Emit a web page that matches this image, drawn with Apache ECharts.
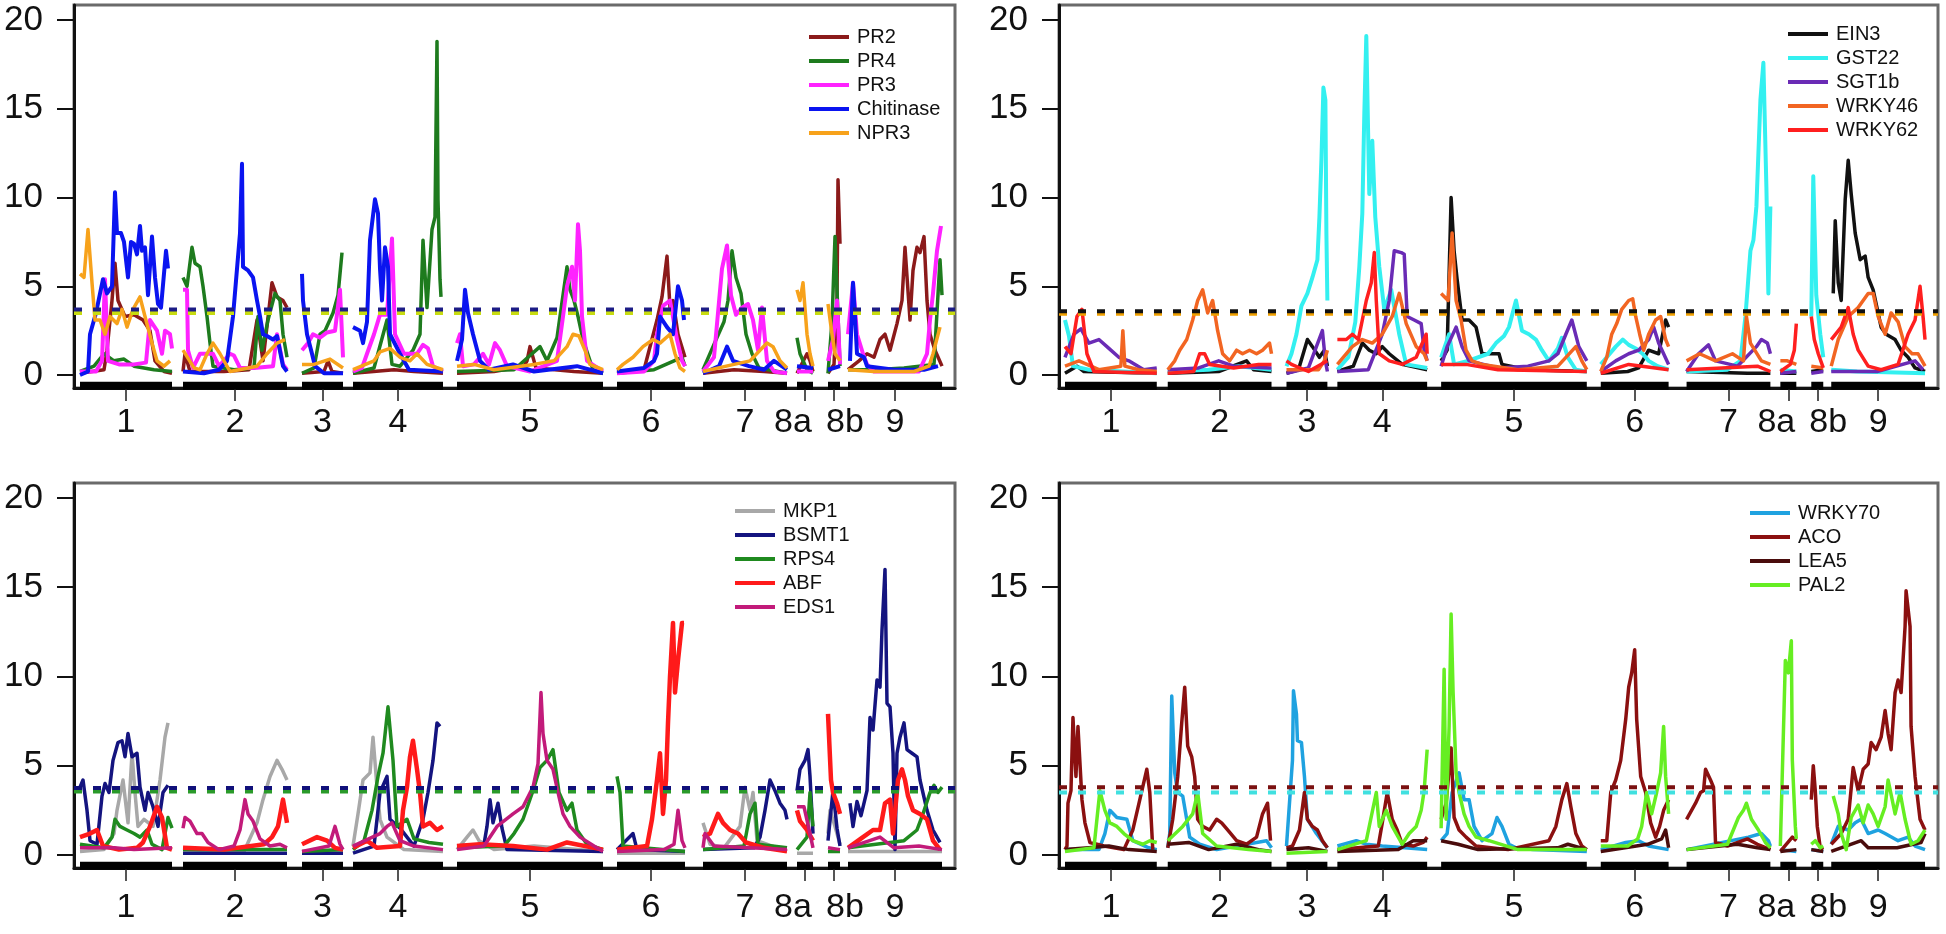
<!DOCTYPE html>
<html>
<head>
<meta charset="utf-8">
<script src="https://cdn.jsdelivr.net/npm/echarts@6/dist/echarts.min.js"></script>
<style>html,body{margin:0;padding:0;background:#fff}#c{width:1946px;height:934px}</style>
</head>
<body>
<div id="c"></div>
<script>
// ---- genetic map (cM positions along the plotted genome) ----
const chrNames = ['1','2','3','4','5','6','7','8a','8b','9'];
const chrStart = [6,109,228,279,383,543,629,723,754,774];
const chrEnd   = [98,213,269,369,529,611,713,739,766,868];
const genomeSpan = 881;
const yTicks = [0,5,10,15,20];

// ---- LOD profiles: [position, LOD] ----
// Panel A
const PR2 = [[6,0.1],[30,0.3],[33,1.4],[38,4.2],[41,6.3],[44,4.2],[51,3.3],[60,3.4],[69,3.1],[76,2.5],[81,0.8],[90,0.2],[98,0.1],
[109,0.2],[111,1.2],[116,0.2],[150,0.2],[175,0.3],[183,3.1],[189,0.8],[198,5.2],[203,4.4],[209,4.2],[213,3.8],
[228,0.1],[250,0.2],[254,0.8],[258,0.2],[269,0.1],
[279,0.1],[320,0.3],[340,0.2],[369,0.1],
[383,0.1],[420,0.2],[450,0.5],[453,0.8],[456,1.6],[462,0.4],[500,0.2],[529,0.1],
[543,0.1],[570,0.3],[583,3.1],[588,4.4],[593,6.7],[596,3.8],[599,4.2],[604,2.3],[611,1],
[629,0.1],[660,0.3],[690,0.2],[713,0.1],
[723,0.1],[733,1.2],[736,0.8],[739,0.2],
[754,0.1],[760,0.6],[763,4.2],[764,11],[766,7.4],
[774,0.3],[785,0.8],[793,1.2],[800,1.0],[806,2],[811,2.3],[816,1.4],[823,2.9],[828,4.2],[831,7.2],[836,3.1],[839,5.9],[843,7.2],[846,6.9],[850,7.8],[853,4.2],[856,2.3],[861,1.4],[868,0.5]];
const PR4 = [[6,0.2],[20,0.5],[30,1.2],[40,0.8],[50,0.9],[60,0.5],[80,0.3],[98,0.2],
[109,5.5],[113,5],[118,7.2],[121,6.3],[126,6.1],[129,5],[133,3.3],[136,1.8],[139,0.5],[160,0.3],[180,0.4],[184,3.3],[188,1.4],[194,3.1],[201,4.6],[206,4.2],[209,2.3],[213,1],
[228,0.1],[240,0.4],[246,2.3],[251,2.5],[259,3.5],[264,4.5],[268,6.9],
[279,0.1],[300,0.4],[313,3.1],[318,0.6],[326,0.5],[339,1.4],[346,2.3],[349,7.6],[353,3.8],[358,8.2],[361,8.9],[363,18.8],[364,9.9],[366,5.4],[367,4.4],
[383,0.2],[440,0.3],[466,1.6],[473,0.8],[483,2.1],[493,6.1],[496,4.8],[500,4.2],[504,3.3],[509,2],[519,0.3],[529,0.1],
[543,0.1],[580,0.3],[600,0.8],[608,1],[611,0.5],
[629,0.3],[639,1.6],[650,3],[654,4.2],[658,7],[662,5.5],[667,4.6],[672,2.3],[678,1.2],[685,0.4],[713,0.1],
[723,2.1],[726,1.2],[733,0.3],[739,0.1],
[754,0.1],[758,3],[761,7.8],[763,4.8],[766,0.5],
[774,0.3],[800,0.3],[830,0.4],[860,0.6],[866,6.5],[868,4.5]];
const PR3 = [[6,0.2],[22,0.2],[28,0.8],[31,5.4],[34,0.8],[45,0.6],[60,0.6],[72,0.7],[76,3.1],[83,2.5],[88,1.2],[91,2.5],[96,2.3],[98,1.5],
[109,4.8],[113,4.8],[114,1.4],[119,0.4],[126,1.2],[139,1.2],[145,0.5],[156,1.2],[160,1.1],[166,0.4],[180,0.4],[199,0.5],[203,2.3],[209,0.6],[213,0.3],
[228,1.4],[234,1.8],[239,2.3],[246,2.1],[253,2.4],[261,2.5],[266,4.8],[269,1],
[279,0.2],[288,0.4],[293,1.2],[300,2.3],[306,3.4],[313,3.4],[318,7.7],[321,2.3],[330,1.2],[343,1.2],[349,1.7],[354,1.5],[359,0.5],[369,0.2],
[383,1.8],[386,2.3],[389,0.5],[400,0.6],[409,1.2],[415,0.6],[421,1.8],[426,1.4],[433,0.5],[456,0.2],[483,0.8],[489,3.3],[493,5],[498,6.1],[501,4.2],[504,8.5],[506,7],[508,3.3],[513,0.8],[529,0.2],
[543,0.1],[570,0.2],[580,0.8],[583,2.3],[589,3.9],[596,4.2],[603,2],[608,0.8],[611,0.5],
[629,0.2],[640,1],[648,6],[653,7.3],[657,4.5],[662,3.4],[668,3.8],[674,4],[679,3.1],[684,1.4],[688,3.8],[693,0.8],[700,0.2],[713,0.1],
[723,0.2],[739,0.2],
[754,0.8],[759,2],[763,4.2],[766,0.6],
[774,2.3],[779,5.2],[783,2.3],[789,1.2],[793,0.6],[800,0.2],[845,0.2],[853,1.2],[856,3.1],[859,4.6],[863,7],[867,8.4]];
const Chitinase = [[6,0],[14,0.2],[16,2.3],[22,3.5],[29,5.4],[33,4.6],[38,5],[41,10.3],[43,8],[47,8],[50,7.5],[54,5.5],[57,7.5],[60,7.4],[63,6.8],[66,8.4],[68,7],[71,7.2],[74,4.5],[78,7.8],[81,5.5],[84,4],[87,3.8],[92,7],[94,6],
[109,0.2],[130,0.1],[145,0.3],[153,0.8],[159,3.3],[166,8],[168,11.9],[169,6.1],[174,5.9],[179,5.5],[183,4.2],[186,3.3],[189,2.3],[193,2.2],[199,2],[203,2.2],[209,0.5],[213,0.2],
[228,5.7],[229,4.2],[233,2.3],[238,1.2],[241,0.5],[250,0.1],[269,0.1],
[279,2.7],[286,2.5],[289,1.8],[293,3],[296,7.6],[301,9.9],[304,9.1],[306,6],[308,4.2],[311,7.2],[314,6.1],[316,2.3],[326,1.2],[335,0.3],[369,0.2],
[383,0.8],[388,2],[391,4.8],[394,3.5],[399,2.3],[406,0.8],[415,0.3],[439,0.6],[460,0.2],[503,0.5],[529,0.1],
[543,0.2],[570,0.4],[580,0.8],[583,1.2],[586,3.3],[593,2.7],[599,2.3],[604,5],[608,4.2],[610,3.1],
[629,0.1],[645,0.5],[653,1.6],[659,0.8],[675,0.5],[690,0.3],[700,0.8],[713,0.3],
[723,0.5],[739,0.4],
[754,0.3],[766,0.5],
[776,0.8],[779,5.2],[781,3.3],[783,1.2],[790,1],[793,0.5],[820,0.3],[850,0.3],[864,0.5]];
const NPR3 = [[6,5.7],[10,5.5],[14,8.2],[18,5.2],[21,3.1],[26,3.1],[31,2.3],[36,3.3],[43,2.9],[48,3.7],[53,2.7],[59,3.7],[66,4.4],[71,3.3],[78,1.8],[83,0.8],[90,0.5],[96,0.8],
[109,1.4],[120,0.4],[126,0.3],[133,1.2],[139,1.8],[146,1.2],[156,0.2],[183,0.5],[193,1.2],[203,1.8],[211,2],
[228,0.6],[240,0.6],[256,0.9],[269,0.4],
[279,0.3],[300,0.8],[306,1.3],[316,1.5],[326,1.0],[336,0.8],[343,1.2],[353,0.6],[369,0.3],
[383,0.5],[400,0.6],[420,0.3],[460,0.6],[480,0.8],[493,1.6],[499,2.3],[505,2.2],[511,1.4],[516,0.6],[529,0.3],
[543,0.3],[549,0.6],[559,1],[569,1.6],[579,2],[586,1.8],[596,2.3],[601,1.2],[606,0.4],[611,0.2],
[629,0.2],[660,0.6],[676,0.8],[686,1.4],[693,1.8],[699,1.6],[706,0.8],[713,0.4],
[723,4.8],[726,4.2],[729,5.2],[733,2.3],[736,1.2],[739,0.5],
[754,4],[758,2.3],[761,1.2],[766,0.8],
[774,0.3],[800,0.2],[840,0.2],[855,0.5],[859,1.2],[866,2.7]];

// Panel B
const EIN3 = [[6,0.1],[18,0.5],[25,0.2],[98,0.1],
[109,0.1],[160,0.2],[188,0.8],[195,0.3],[213,0.2],
[228,0.1],[240,0.3],[249,2],[254,1.6],[261,1],[266,1.4],[269,0.5],
[279,0.2],[295,0.5],[304,1.8],[311,1.4],[318,1.2],[324,1.6],[331,1.2],[344,0.6],[369,0.3],
[383,0.8],[389,1.4],[393,10],[396,7],[399,5.4],[404,3.1],[411,3.1],[418,2.7],[424,1.2],[435,1.2],[441,1.2],[444,0.6],[470,0.3],[529,0.2],
[543,0.1],[570,0.2],[581,0.4],[591,1.4],[601,1.2],[608,3.1],[611,2.7],
[629,0.2],[690,0.1],[713,0.1],
[723,0.1],[739,0.1],
[754,0.2],[766,0.3],
[776,4.6],[778,8.7],[781,5.2],[784,4.2],[788,9.9],[791,12.1],[794,10.2],[798,8],[803,6.5],[808,6.7],[811,5.5],[816,4.8],[824,2.7],[829,2.3],[838,2],[844,1.4],[851,1],[858,0.4],[868,0.2]];
const GST22 = [[6,3.1],[10,2.2],[14,0.5],[30,0.3],[98,0.1],
[109,0.2],[150,0.3],[180,0.5],[213,0.3],
[228,0.5],[233,1.2],[238,2.3],[243,3.9],[249,4.6],[254,5.5],[259,6.5],[261,8.9],[263,12.1],[265,16.2],[267,15.5],[268,8],[269,4.2],
[279,0.3],[290,1],[297,3],[301,6.1],[304,9.1],[306,14.7],[308,19.1],[311,10.2],[314,13.2],[317,8.9],[321,6.1],[326,3.7],[333,4.8],[341,2.3],[348,0.6],[369,0.4],
[383,1],[391,2.3],[396,0.6],[410,0.8],[430,1.2],[438,1.8],[446,2.2],[451,2.7],[458,4.2],[464,2.5],[471,2.3],[478,2],[484,1.4],[491,0.8],[500,1.5],[504,2.1],[510,1],[518,0.3],[529,0.2],
[543,0.6],[549,1],[558,1.6],[565,2.0],[571,1.7],[578,1.5],[585,1.2],[591,0.8],[600,0.5],[611,0.3],
[629,0.2],[670,0.3],[683,0.8],[688,3.3],[693,7],[696,7.6],[699,9.5],[703,15.5],[706,17.6],[709,10.6],[711,4.6],[713,9.5],
[723,0.3],[739,0.2],
[754,3.3],[756,11.2],[759,4.5],[763,2.3],[766,1],
[774,0.3],[800,0.2],[868,0.1]];
const SGT1b = [[6,1],[15,2.3],[22,2.6],[30,1.8],[40,2],[50,1.5],[60,1],[70,0.8],[85,0.3],[98,0.4],
[109,0.3],[140,0.4],[160,0.8],[175,0.5],[213,0.4],
[228,0.1],[250,0.4],[258,1.6],[264,2.5],[267,0.8],[269,0.2],
[279,0.2],[310,0.3],[324,2.3],[331,4.2],[336,7],[343,6.9],[346,6.8],[349,3.3],[356,3.1],[363,2.9],[366,1.4],[369,0.8],
[383,0.5],[389,1.6],[398,2.7],[404,1.6],[411,0.8],[440,0.4],[470,0.5],[491,0.8],[500,1.2],[508,2.3],[514,3.1],[521,1.6],[529,0.8],
[543,0.2],[558,0.8],[571,1.2],[581,1.4],[591,2.0],[596,2.7],[601,1.8],[611,0.6],
[629,0.2],[641,1.2],[651,1.7],[658,0.8],[680,0.5],[699,1.6],[704,2],[710,1.8],[713,1.2],
[723,0.1],[739,0.2],
[754,0.1],[766,0.2],
[774,0.2],[820,0.2],[858,0.8],[866,0.3]];
const WRKY46 = [[6,0.5],[20,0.8],[40,0.3],[62,0.5],[64,2.5],[66,0.5],[80,0.3],[98,0.2],
[109,0.3],[116,0.8],[121,1.4],[128,2],[134,3.1],[139,4.2],[144,4.8],[149,3.5],[154,4.2],[159,2.5],[164,1.2],[171,0.8],[178,1.4],[184,1.2],[191,1.4],[198,1.2],[204,1.4],[211,1.8],[213,1.2],
[228,0.3],[260,0.3],[266,0.8],[269,1.4],
[279,0.6],[294,1.6],[304,2.0],[314,1.8],[324,2.3],[334,3.3],[341,4.6],[348,2.9],[358,1.6],[366,1.2],[369,0.8],
[383,4.6],[390,4.2],[394,8],[398,4.2],[403,3.1],[408,1.4],[414,0.8],[424,0.6],[460,0.3],[500,0.5],[518,1.6],[524,0.8],[529,0.3],
[543,0.2],[549,1],[554,2.3],[559,2.9],[564,3.7],[571,4.2],[575,4.3],[578,3.3],[582,2.3],[586,1.4],[591,2.3],[598,3.1],[603,3.3],[608,2],[611,1.6],
[629,0.8],[642,1.2],[658,0.8],[675,1.2],[686,0.8],[689,3.3],[693,1.8],[704,0.8],[713,0.6],
[723,0.8],[730,0.8],[739,0.6],
[754,0.5],[766,0.4],
[774,0.5],[781,2],[791,3.3],[801,3.8],[811,4.6],[816,4.6],[821,3.3],[828,2.3],[834,3.5],[841,3],[848,1.6],[855,1.2],[861,1.2],[868,0.5]];
const WRKY62 = [[6,1.6],[12,1.2],[18,3.3],[23,3.7],[28,1.2],[35,0.2],[98,0.1],
[109,0.1],[135,0.2],[141,1.2],[146,1.2],[151,0.6],[175,0.4],[200,0.6],[213,0.6],
[228,0.8],[233,0.6],[250,0.2],[269,0.8],
[279,2],[288,2],[294,2.3],[300,2],[308,4.2],[313,5.2],[316,6.9],[318,4.2],[321,1.2],[331,0.8],[344,0.6],[358,1],[368,2.3],[369,1.2],
[383,0.6],[408,0.6],[440,0.3],[529,0.2],
[543,0.1],[571,0.6],[611,0.3],
[629,0.3],[700,0.5],[713,0.2],
[723,0.2],[733,0.6],[737,1.4],[739,2.9],
[754,3.3],[757,2],[761,1.2],[766,0.4],
[774,2],[784,2.7],[791,3.8],[796,2.3],[801,1.4],[811,0.5],[824,0.3],[841,0.6],[851,2.3],[858,3.1],[863,5],[866,3.3],[868,2]];

// Panel C
const MKP1 = [[6,0.2],[30,0.3],[40,1.2],[43,2.5],[49,4.2],[54,1.8],[58,5.7],[61,3.5],[64,1.6],[70,2],[79,1.6],[86,4.2],[91,6.6],[94,7.4],
[109,0.1],[170,0.2],[183,1.8],[189,3.1],[196,4.4],[203,5.3],[208,4.8],[213,4.2],
[228,0.1],[269,0.1],
[279,0.5],[284,2.3],[289,4.2],[296,4.6],[299,6.6],[303,3.8],[306,2],[313,1],[330,0.3],[369,0.2],
[383,0.3],[393,1],[399,1.4],[405,0.8],[420,0.3],[460,0.5],[529,0.2],
[543,0.1],[611,0.1],
[629,1.8],[636,0.6],[650,0.4],[666,1.6],[671,3.8],[676,2.5],[679,3.5],[683,0.8],[713,0.2],
[723,0.1],[739,0.1],
[754,1.2],[756,2.5],[761,1.6],[766,0.6],
[774,0.2],[868,0.2]];
const BSMT1 = [[6,3.8],[9,4.2],[13,2.5],[16,0.8],[23,0.6],[28,3.3],[31,4],[35,3.5],[39,5.3],[44,6.3],[48,6.4],[51,5.5],[54,6.8],[58,5.5],[63,5.7],[66,3.8],[71,2.5],[74,3.5],[79,2.7],[84,1.6],[89,3.5],[94,3.9],
[109,0.1],[213,0.1],
[228,0.1],[269,0.1],
[279,0.1],[300,0.5],[306,3.5],[313,4.4],[316,2],[326,1.5],[333,1],[340,0.5],[349,2],[354,3.5],[359,5.3],[363,7.4],[366,7.2],
[383,0.5],[410,0.6],[413,1.6],[416,3.1],[419,1.8],[424,2.9],[428,1.5],[433,0.3],[529,0.2],
[543,0.3],[559,1.2],[563,0.3],[611,0.2],
[629,0.3],[680,0.4],[686,1],[691,2.5],[696,4.2],[701,3.6],[706,2.9],[711,2.5],[713,2],
[723,3.6],[726,4.8],[731,5.3],[734,5.9],[736,4.4],[739,1.2],
[754,0.8],[759,3.6],[763,1.5],[766,0.5],
[776,2.9],[779,1.6],[783,3],[787,2.2],[793,3.6],[796,7.7],[799,7],[803,9.8],[806,9.4],[808,12.6],[811,16],[813,8.5],[816,8.3],[819,5.7],[821,0.3],[823,5.7],[826,6.6],[830,7.4],[833,5.9],[838,5.7],[843,5.5],[846,4.2],[853,2.5],[859,1.4],[866,0.7]];
const RPS4 = [[6,0.6],[30,0.4],[38,1],[41,2],[46,1.6],[53,1.4],[60,1.2],[66,1],[73,1.4],[78,0.6],[88,0.3],[94,2.1],[98,1.5],
[109,0.3],[213,0.3],
[228,0.2],[269,0.3],
[279,0.3],[290,0.8],[298,2.5],[304,4.4],[309,5.7],[314,8.3],[319,5.3],[323,1.6],[333,2],[340,0.9],[355,0.7],[369,0.6],
[383,0.4],[430,0.5],[440,1.2],[449,2],[459,3.6],[466,4.9],[473,5.3],[479,5.9],[485,3.5],[493,2.5],[498,2.9],[503,1.4],[513,0.6],[529,0.3],
[543,4.4],[546,3.5],[549,0.5],[611,0.2],
[629,0.3],[670,0.5],[676,2.3],[681,2.9],[684,0.6],[713,0.4],
[723,0.3],[733,1],[736,3.5],[739,1.6],
[754,0.2],[766,0.2],
[774,0.4],[830,0.8],[843,1.4],[849,2.3],[856,3.5],[860,3.9],[864,3.5],[868,3.8]];
const ABF = [[6,1],[16,1.2],[23,1.4],[29,0.5],[45,0.3],[63,0.4],[69,0.7],[76,1.6],[83,2.7],[88,2.1],[93,0.4],[98,0.3],
[109,0.4],[150,0.3],[190,0.6],[198,1],[204,1.6],[209,3.1],[213,1.8],
[228,0.6],[243,1],[253,0.8],[261,0.4],[269,0.3],
[279,0.4],[293,0.8],[303,0.4],[326,0.5],[329,2.5],[333,3.8],[336,5.5],[339,6.4],[343,4.8],[346,3.5],[349,1.6],[356,1.8],[363,1.4],[369,1.6],
[383,0.5],[406,0.6],[439,0.5],[473,0.3],[493,0.7],[529,0.3],
[543,0.3],[573,0.5],[578,2],[583,4.2],[586,5.7],[589,2.3],[592,4.2],[594,7.4],[596,10],[599,13],[601,9.1],[604,10.9],[608,13],[610,13],
[629,1],[636,1.2],[644,2.3],[649,1.8],[656,1.4],[664,1.2],[672,0.7],[690,0.4],[713,0.2],
[723,2.5],[726,1.9],[733,1.4],[739,0.8],
[754,7.9],[757,4.2],[759,3.5],[763,2.9],[766,2.3],
[774,0.4],[789,1],[799,1.4],[806,1.4],[811,2.9],[816,3.1],[819,1.2],[824,4.2],[828,4.8],[831,4.2],[834,3.3],[839,2.5],[846,2.3],[853,2],[859,0.8],[866,0.3]];
const EDS1 = [[6,0.4],[40,0.4],[60,0.3],[98,0.4],
[109,1.5],[111,2.1],[116,1.9],[123,1.2],[128,1.2],[134,0.7],[145,0.3],[160,0.5],[166,1.4],[171,3.1],[174,2.3],[179,1.9],[186,0.9],[196,0.5],[206,0.6],[213,0.4],
[228,0.2],[255,0.5],[261,1.6],[266,0.6],[269,0.3],
[279,0.5],[306,1.2],[313,1.6],[318,1.8],[326,0.8],[340,0.5],[369,0.3],
[383,0.3],[410,0.5],[423,1.6],[439,2.3],[449,2.7],[459,3.8],[464,5.1],[467,9.1],[469,6.8],[473,5.3],[479,4.8],[484,3.5],[489,2.3],[496,1.6],[506,1],[520,0.5],[529,0.2],
[543,0.2],[590,0.3],[600,0.6],[604,2.5],[608,0.8],[611,0.4],
[629,0.4],[631,1.2],[640,0.5],[713,0.3],
[723,2.7],[730,2.7],[736,1.2],[739,0.4],
[754,0.4],[766,0.3],
[774,0.4],[806,1],[820,0.4],[845,0.5],[868,0.3]];

// Panel D
const WRKY70 = [[6,0.3],[40,0.3],[46,1.2],[51,2.5],[58,2.1],[68,2],[74,0.8],[90,0.4],[98,0.3],
[109,0.4],[111,1.2],[113,8.9],[116,4.6],[119,3.5],[124,3.3],[128,2],[131,1],[141,0.6],[158,0.3],[208,0.8],[213,0.4],
[228,0.5],[234,5.3],[235,9.2],[238,7.9],[239,6.4],[243,6.3],[246,4.4],[249,2],[258,1.2],[269,0.4],
[279,0.5],[298,0.8],[308,0.6],[324,0.5],[369,0.3],
[383,0.8],[389,1.2],[394,3.5],[401,4.6],[406,3.1],[411,3.1],[416,1.6],[424,0.8],[434,1.2],[439,2.1],[444,1.6],[451,0.6],[458,0.4],[475,0.3],[529,0.2],
[543,0.3],[568,0.7],[581,0.8],[591,0.5],[611,0.3],
[629,0.3],[691,1.0],[704,1.2],[711,0.8],[713,0.5],
[723,0.3],[739,0.2],
[754,0.3],[766,0.2],
[774,0.6],[781,1.6],[791,1.4],[798,1.8],[804,2],[811,1.2],[821,1.4],[828,1.2],[841,0.8],[851,1],[858,0.5],[868,0.3]];
const ACO = [[6,0.3],[8,0.5],[9,2.9],[12,3.6],[14,7.7],[17,4.4],[19,7.2],[23,3.1],[26,1.8],[31,0.7],[45,0.5],[65,0.3],[74,1.4],[81,3.1],[88,4.8],[91,3.5],[94,0.3],
[109,0.4],[114,2],[119,4.4],[123,7.4],[126,9.4],[129,6.1],[133,5.5],[136,4.4],[139,2],[144,1.6],[151,1.4],[158,2],[163,1.8],[169,1.4],[178,0.8],[188,0.6],[198,1],[204,2.3],[209,2.9],[212,0.8],
[228,0.4],[234,0.5],[241,1.4],[246,3.5],[249,2],[254,1.6],[259,1.4],[264,0.8],[269,0.4],
[279,0.3],[320,0.5],[324,1.8],[329,3.5],[334,2],[339,1.4],[344,0.6],[355,0.5],[365,0.7],[369,1],
[383,2],[388,2.9],[393,6],[396,2.1],[401,1.4],[408,1],[418,0.5],[450,0.3],[491,0.8],[498,1.6],[504,3.1],[509,4],[513,2.7],[518,1.2],[524,0.5],[529,0.3],
[543,0.8],[549,0.8],[553,3.5],[558,4.2],[563,5.3],[568,7.6],[571,9.4],[574,10.2],[577,11.5],[579,7.6],[583,4.4],[588,3.5],[593,1.8],[598,1],[602,1.6],[606,2.5],[611,3.1],
[629,2],[638,2.9],[643,3.5],[646,3.6],[648,4.8],[653,4.2],[656,3.8],[658,0.7],[670,0.5],[690,0.9],[700,0.6],[713,0.3],
[723,0.2],[735,1],[739,0.8],
[754,3.1],[756,5],[758,3.6],[760,1.6],[763,0.4],[766,0.3],
[774,0.6],[784,1.2],[791,2],[796,4.9],[801,3.6],[806,4.8],[811,5.1],[814,6.3],[819,5.9],[824,6.6],[828,8.1],[831,6.8],[834,5.9],[838,9.1],[841,9.8],[844,9.1],[848,12.8],[849,14.8],[853,12.8],[854,7.2],[858,4.4],[863,2],[868,1.4]];
const LEA5 = [[6,0.3],[30,0.4],[50,0.5],[70,0.3],[98,0.2],
[109,0.6],[130,0.7],[150,0.3],[178,0.6],[200,0.3],[213,0.2],
[228,0.3],[250,0.4],[269,0.2],
[279,0.2],[340,0.3],[355,0.8],[369,0.8],
[383,0.8],[400,0.6],[420,0.3],[500,0.4],[510,0.6],[529,0.3],
[543,0.2],[590,0.6],[604,0.9],[608,1.4],[611,0.4],
[629,0.3],[680,0.6],[700,0.4],[713,0.3],
[723,0.2],[739,0.3],
[754,0.3],[766,0.2],
[774,0.2],[804,0.8],[811,0.4],[840,0.4],[864,0.7],[868,1.2]];
const PAL2 = [[6,0.2],[35,0.4],[41,3.6],[46,2.5],[51,1.8],[58,1.6],[65,1.2],[74,0.8],[84,0.6],[91,0.8],[98,0.7],
[109,0.8],[124,1.6],[134,2.3],[139,3.5],[144,1.2],[158,0.5],[190,0.3],[213,0.2],
[228,0.1],[269,0.2],
[279,0.3],[308,0.8],[318,3.5],[321,1.6],[328,2.5],[334,1.6],[344,0.6],[351,1.2],[358,1.6],[363,2.5],[366,3.6],[369,5.9],
[383,1.5],[386,10.4],[388,2],[391,7.2],[393,13.5],[395,9.1],[398,4.6],[401,3.5],[406,2.3],[411,1.6],[418,1],[431,0.8],[460,0.3],[529,0.3],
[543,0.5],[570,0.5],[580,0.9],[584,1.6],[589,3.5],[594,2.3],[599,3.5],[603,4.6],[606,7.2],[608,4.4],[611,2.3],
[629,0.3],[670,0.6],[681,2.1],[686,2.5],[689,2.9],[694,2],[701,1.4],[708,0.7],[713,0.4],
[723,0.5],[728,10.9],[731,10.2],[734,12],[735,5.3],[738,1.6],[739,0.9],
[754,0.6],[758,0.8],[763,0.4],[766,0.5],
[776,3.3],[778,3.3],[781,2.3],[784,1.2],[789,0.3],[794,2.1],[801,2.8],[806,1.8],[811,2.8],[816,2.3],[821,1.6],[828,2.7],[831,4.2],[838,2.3],[843,3.5],[848,2],[854,0.6],[861,0.8],[868,1.4]];

// significance thresholds per panel: [LOD, colour]
const thrA = [[3.5,'#c8dc10'],[3.7,'#1c1c86']];
const thrB = [[3.45,'#f0a000'],[3.6,'#111111']];
const thrC = [[3.55,'#2a9a2a'],[3.75,'#10107a']];
const thrD = [[3.5,'#40e0e0'],[3.8,'#7a1010']];

const panelSeries = [
  [['PR2',PR2,'#8b1a1a',3.5],['PR4',PR4,'#1e7b1e',3.5],['PR3',PR3,'#ff22ff',4],['Chitinase',Chitinase,'#0a14f0',4],['NPR3',NPR3,'#f7a21b',3.5]],
  [['EIN3',EIN3,'#111111',3.5],['GST22',GST22,'#33f0f0',4],['SGT1b',SGT1b,'#6a2bb5',3.5],['WRKY46',WRKY46,'#f26522',3.5],['WRKY62',WRKY62,'#ff1f1f',3.5]],
  [['MKP1',MKP1,'#a8a8a8',3.5],['BSMT1',BSMT1,'#14147f',3.5],['RPS4',RPS4,'#1f8a1f',3.5],['ABF',ABF,'#ff1a1a',4.5],['EDS1',EDS1,'#c21b7a',3.5]],
  [['WRKY70',WRKY70,'#1fa2e0',3.5],['ACO',ACO,'#8b1010',3.5],['LEA5',LEA5,'#4a0c0c',3.5],['PAL2',PAL2,'#66ee22',3.5]]
];
const panelThr = [thrA,thrB,thrC,thrD];

const panels = [
  {left:74,  top:5,   width:881, height:383, ymin:-0.73, ymax:20.85, lm:18, legL:804,  legT:22},
  {left:1059,top:5,   width:879, height:383, ymin:-0.73, ymax:20.85, lm:18, legL:1783, legT:19},
  {left:74,  top:483, width:881, height:385, ymin:-0.73, ymax:20.84, lm:23, legL:730,  legT:496},
  {left:1059,top:483, width:879, height:385, ymin:-0.73, ymax:20.84, lm:23, legL:1745, legT:498}
];

function chrOf(x){ for(let i=0;i<chrStart.length;i++){ if(x>=chrStart[i]-0.5 && x<=chrEnd[i]+0.5) return i; } return -1; }
function toLine(pts){
  const out=[]; let prev=null;
  pts.forEach(p=>{ const c=chrOf(p[0]); if(prev!==null && c!==prev){ out.push([(p[0]+out[out.length-1][0])/2,'-']); } out.push([p[0],p[1]]); prev=c; });
  return out;
}
const chrMid = chrStart.map((s,i)=>(s+chrEnd[i])/2);
const labelShift = {'8a':-12,'8b':11};
const labelPos = chrMid.map((m,i)=>m+(labelShift[chrNames[i]]||0));
function labelFor(v){ let bi=0,bd=1e9; labelPos.forEach((p,i)=>{const d=Math.abs(p-v); if(d<bd){bd=d;bi=i;}}); return chrNames[bi]; }
// chromosome bars along the bottom
const chrBar = []; chrStart.forEach((s,i)=>{ if(i>0) chrBar.push([(chrEnd[i-1]+s)/2,'-']); chrBar.push([s,-0.6]); chrBar.push([chrEnd[i],-0.6]); });

const FONT = 'Liberation Sans, Arial, Helvetica, sans-serif';
const grid=[], xAxis=[], yAxis=[], series=[], legend=[];
panels.forEach((p,i)=>{
  grid.push({left:p.left, top:p.top, width:p.width, height:p.height, show:true, borderColor:'#6a6a6a', borderWidth:3, containLabel:false});
  xAxis.push({type:'value', gridIndex:i, min:0, max:genomeSpan, splitLine:{show:false},
    axisLine:{show:true, onZero:false, lineStyle:{color:'#111', width:3}},
    axisTick:{show:true, customValues:chrMid, length:13, lineStyle:{color:'#555', width:2}},
    axisLabel:{show:true, customValues:labelPos, margin:p.lm, fontSize:34, color:'#111', fontFamily:FONT, formatter:(v)=>labelFor(v)}});
  yAxis.push({type:'value', gridIndex:i, min:p.ymin, max:p.ymax, splitLine:{show:false},
    axisLine:{show:true, onZero:false, lineStyle:{color:'#111', width:3}},
    axisTick:{show:true, customValues:yTicks, length:17, lineStyle:{color:'#111', width:2}},
    axisLabel:{show:true, customValues:yTicks, margin:31, fontSize:35, color:'#111', fontFamily:FONT}});
  series.push({type:'line', xAxisIndex:i, yAxisIndex:i, data:chrBar, showSymbol:false, symbol:'none', silent:true,
    lineStyle:{color:'#000', width:8, cap:'butt'}, z:1, clip:false});
  panelSeries[i].forEach(s=>{
    series.push({name:s[0], type:'line', xAxisIndex:i, yAxisIndex:i, data:toLine(s[1]), showSymbol:false, symbol:'none',
      connectNulls:false, color:s[2], lineStyle:{color:s[2], width:s[3], join:'round'}, z:2});
  });
  panelThr[i].forEach(t=>{
    series.push({type:'line', xAxisIndex:i, yAxisIndex:i, data:[[0,t[0]],[genomeSpan,t[0]]], showSymbol:false, symbol:'none', silent:true,
      lineStyle:{color:t[1], width:4, type:[8,11]}, z:3});
  });
  legend.push({orient:'vertical', left:p.legL, top:p.legT, data:panelSeries[i].map(s=>s[0]), icon:'rect', itemWidth:40, itemHeight:4,
    itemGap:4, selectedMode:false, textStyle:{fontSize:20, lineHeight:20, color:'#111', fontFamily:FONT, padding:[0,0,0,3]}});
});

const chart = echarts.init(document.getElementById('c'), null, {renderer:'canvas'});
chart.setOption({animation:false, backgroundColor:'#fff', grid, xAxis, yAxis, series, legend});
</script>
</body>
</html>
